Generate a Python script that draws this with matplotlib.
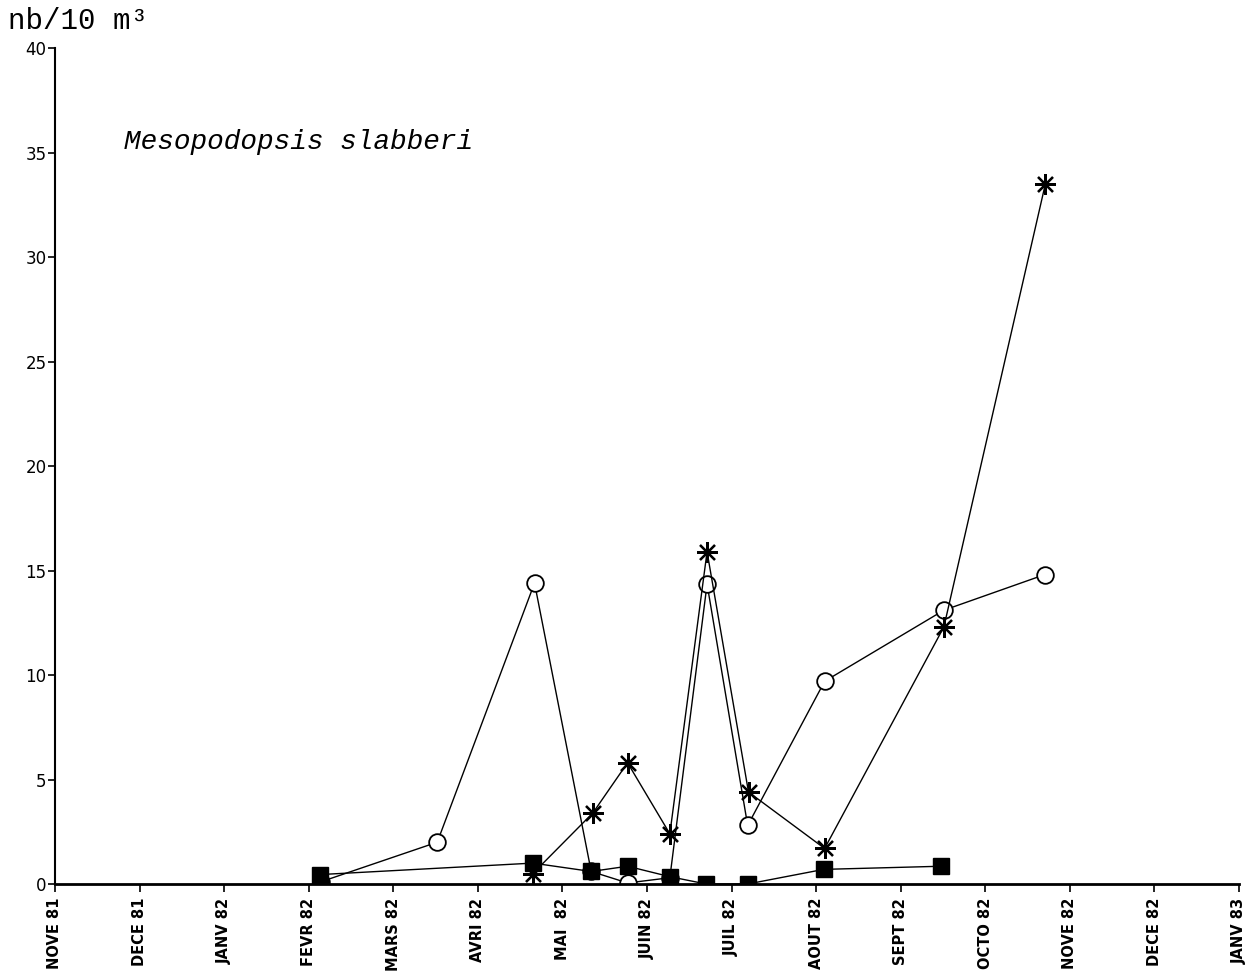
"""
plot.py - Mesopodopsis slabberi abundance, Nov 1981 - Jan 1983.
"""

import matplotlib
matplotlib.use("Agg")
import matplotlib.pyplot as plt

MONTH_LABELS = ["NOVE 81", "DECE 81", "JANV 82", "FEVR 82", "MARS 82", "AVRI 82",
                "MAI  82", "JUIN 82", "JUIL 82", "AOUT 82", "SEPT 82", "OCTO 82",
                "NOVE 82", "DECE 82", "JANV 83"]

# x = months since start of Nov 1981
circle_x = [3.14, 4.52, 5.67, 6.34, 6.77, 7.27, 7.71, 8.19, 9.10, 10.51, 11.70]
circle_y = [0.1, 2.0, 14.4, 0.6, 0.05, 0.3, 14.35, 2.8, 9.7, 13.1, 14.8]

star_x = [5.65, 6.36, 6.77, 7.27, 7.71, 8.20, 9.10, 10.51, 11.71]
star_y = [0.5, 3.4, 5.8, 2.4, 15.9, 4.4, 1.7, 12.3, 33.5]

square_x = [3.13, 5.65, 6.34, 6.77, 7.27, 7.70, 8.19, 9.09, 10.48]
square_y = [0.45, 1.0, 0.6, 0.85, 0.35, 0.0, 0.0, 0.7, 0.85]


fig = plt.figure(figsize=(12.55, 9.74), dpi=100)
ax = fig.add_axes([0.0438, 0.0924, 0.9435, 0.8583])

ax.plot(circle_x, circle_y, color="black", linewidth=1.0, marker="o", markersize=12,
        markerfacecolor="white", markeredgecolor="black", markeredgewidth=1.3)
ax.plot(star_x, star_y, color="black", linewidth=1.0, marker=(8, 2, 0), markersize=15,
        markeredgewidth=1.6)
ax.plot(square_x, square_y, color="black", linewidth=1.0, marker="s", markersize=12)

ax.set_xlim(0, 14)
ax.set_ylim(0, 40)
ax.set_xticks(range(len(MONTH_LABELS)))
ax.set_xticklabels(MONTH_LABELS, rotation=90, fontsize=10.5, fontweight="bold",
                   family="DejaVu Sans")
ax.set_yticks(range(0, 41, 5))
ax.set_yticklabels([str(v) for v in range(0, 41, 5)], fontsize=12, family="DejaVu Sans")
ax.tick_params(axis="y", length=5, width=1.2, direction="out", pad=1)
ax.tick_params(axis="x", length=6, width=1.2, direction="out", pad=4)

for side in ["top", "right"]:
    ax.spines[side].set_visible(False)
ax.spines["left"].set_linewidth(1.5)
ax.spines["bottom"].set_linewidth(2.0)

fig.text(0.006, 0.978, "nb/10 m³", fontsize=21, family="Liberation Mono", va="center")
ax.text(0.058, 0.887, "Mesopodopsis slabberi", transform=ax.transAxes, fontsize=20,
        family="Liberation Mono", style="italic", va="center")

plt.savefig("out.png", dpi=100)
plt.close()
